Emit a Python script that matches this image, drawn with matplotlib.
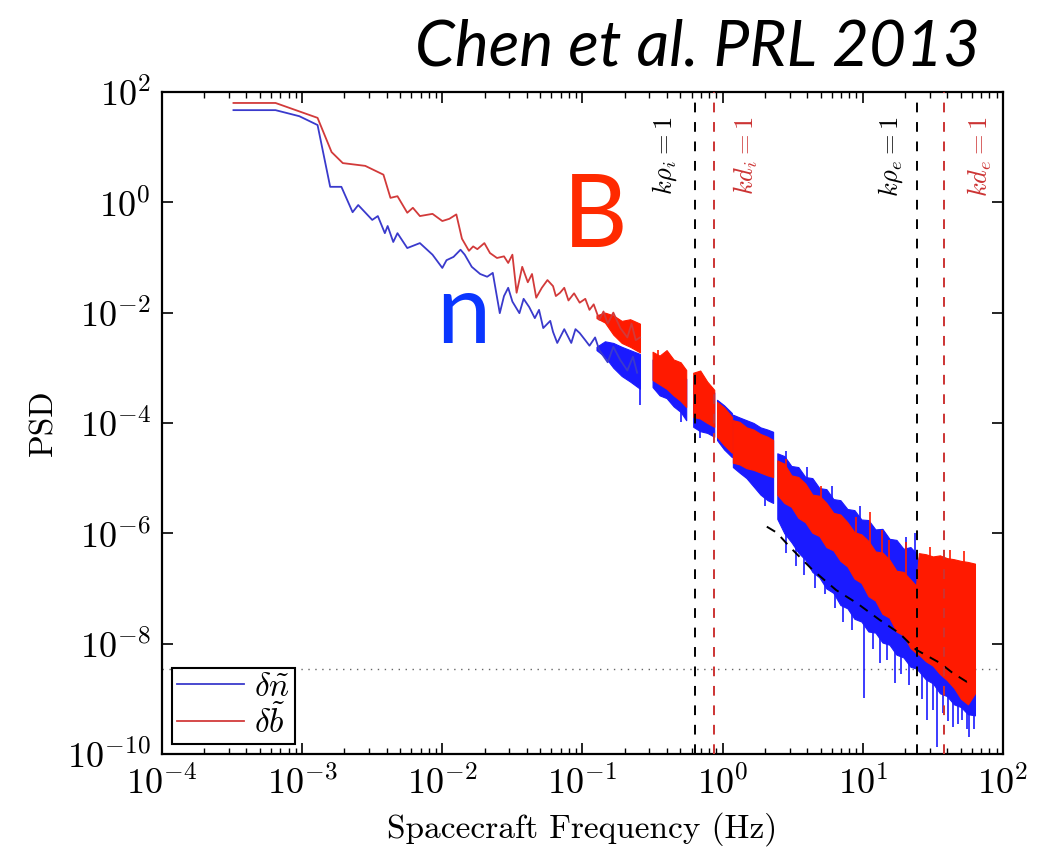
import numpy as np
import matplotlib.pyplot as plt

plt.rcParams['mathtext.fontset'] = 'cm'
plt.rcParams['font.family'] = 'serif'
plt.rcParams['font.serif'] = ['cmr10', 'DejaVu Serif']
plt.rcParams['axes.formatter.use_mathtext'] = True

# all values below are log10 of frequency (Hz) and log10 of PSD

# low frequency part, drawn as plain lines
red_lf_logf = [-3.49, -3.19, -2.89, -2.79, -2.71, -2.55, -2.42, -2.37, -2.32, -2.25, -2.21, -2.16,
               -2.07, -2.00, -1.95, -1.90, -1.86, -1.81, -1.78, -1.75, -1.70, -1.66, -1.61, -1.56,
               -1.53, -1.50, -1.47, -1.43, -1.39, -1.36, -1.33, -1.29, -1.25, -1.21, -1.19, -1.16,
               -1.13, -1.10, -1.06, -1.02, -0.98, -0.95, -0.92, -0.88, -0.85, -0.82, -0.78, -0.73,
               -0.68, -0.65, -0.62, -0.59]
red_lf_logp = [1.80, 1.80, 1.53, 0.91, 0.71, 0.66, 0.50, 0.08, 0.11, -0.19, -0.10, -0.25,
               -0.21, -0.34, -0.30, -0.22, -0.66, -0.88, -0.80, -0.85, -0.74, -0.92, -1.01, -0.98,
               -1.10, -0.95, -1.64, -1.17, -1.45, -1.30, -1.73, -1.55, -1.41, -1.52, -1.70, -1.64,
               -1.55, -1.78, -1.65, -1.82, -1.75, -1.95, -1.85, -2.13, -1.98, -2.20, -2.00, -2.28,
               -2.45, -2.20, -2.50, -2.45]

blue_lf_logf = [-3.49, -3.19, -3.02, -2.89, -2.80, -2.72, -2.64, -2.60, -2.50, -2.46, -2.41, -2.39,
                -2.35, -2.32, -2.25, -2.16, -2.07, -2.00, -1.97, -1.92, -1.87, -1.84, -1.79, -1.73,
                -1.68, -1.64, -1.59, -1.56, -1.53, -1.50, -1.45, -1.42, -1.38, -1.34, -1.31, -1.28,
                -1.23, -1.21, -1.18, -1.13, -1.08, -1.05, -1.02, -0.98, -0.95, -0.91, -0.88, -0.82,
                -0.78, -0.73, -0.68, -0.64, -0.61]
blue_lf_logp = [1.67, 1.67, 1.56, 1.40, 0.28, 0.28, -0.18, -0.05, -0.32, -0.25, -0.56, -0.43,
                -0.72, -0.56, -0.83, -0.74, -0.95, -1.19, -1.05, -0.99, -0.86, -0.95, -1.17, -1.30,
                -1.35, -1.28, -2.01, -1.70, -1.55, -1.80, -2.01, -1.75, -1.90, -2.10, -1.95, -2.28,
                -2.15, -2.35, -2.55, -2.30, -2.55, -2.30, -2.37, -2.50, -2.60, -2.45, -2.68, -2.90,
                -2.62, -2.86, -3.05, -2.80, -3.09]

# high frequency part, dense noise drawn as bands (upper / lower envelope) per data chunk
band_logf = [[-0.90, -0.84, -0.78, -0.72, -0.66, -0.59],
             [-0.50, -0.45, -0.40, -0.35, -0.30, -0.26],
             [-0.21, -0.16, -0.11, -0.06],
             [-0.04, 0.01, 0.066],
             [0.073, 0.12, 0.17, 0.22, 0.27, 0.32, 0.36],
             [0.39, 0.44, 0.49, 0.54, 0.59, 0.64, 0.69, 0.74, 0.79, 0.84, 0.89, 0.94, 0.99, 1.04,
              1.09, 1.14, 1.19, 1.24, 1.29, 1.34, 1.38, 1.40, 1.45, 1.50, 1.55, 1.60, 1.65, 1.70,
              1.75, 1.80]]
band_red_hi = [[-2.05, -2.00, -2.05, -2.15, -2.12, -2.20],
               [-2.71, -2.78, -2.68, -2.85, -2.90, -3.04],
               [-3.09, -3.05, -3.25, -3.40],
               [-3.62, -3.72, -3.89],
               [-3.95, -3.98, -4.08, -4.12, -4.20, -4.25, -4.31],
               [-4.68, -4.74, -4.95, -4.98, -5.10, -5.30, -5.32, -5.45, -5.63, -5.66, -5.80, -5.98,
                -6.02, -6.14, -6.33, -6.35, -6.48, -6.68, -6.70, -6.84, -6.95, -6.36, -6.38, -6.42,
                -6.40, -6.45, -6.47, -6.50, -6.52, -6.55]]
band_red_lo = [[-2.10, -2.18, -2.40, -2.55, -2.62, -2.72],
               [-3.22, -3.30, -3.38, -3.50, -3.60, -3.71],
               [-3.89, -3.92, -4.00, -4.07],
               [-4.25, -4.40, -4.54],
               [-4.72, -4.75, -4.82, -4.85, -4.90, -4.95, -4.98],
               [-5.30, -5.45, -5.52, -5.72, -5.80, -5.99, -6.05, -6.25, -6.31, -6.50, -6.60, -6.82,
                -6.90, -7.14, -7.22, -7.46, -7.53, -7.78, -7.85, -8.08, -8.17, -8.20, -8.32, -8.40,
                -8.55, -8.66, -8.80, -9.00, -9.10, -8.90]]
band_blue_hi = [[-2.62, -2.52, -2.55, -2.62, -2.68, -2.75],
                [-2.85, -2.92, -2.98, -3.05, -3.10, -3.20],
                [-3.15, -3.20, -3.30, -3.45],
                [-3.58, -3.68, -3.82],
                [-3.85, -3.90, -3.95, -4.00, -4.08, -4.12, -4.16],
                [-4.55, -4.60, -4.78, -4.80, -4.98, -5.00, -5.18, -5.20, -5.38, -5.40, -5.56, -5.58,
                 -5.75, -5.76, -5.93, -5.92, -6.10, -6.12, -6.28, -6.25, -6.36, -6.55, -6.58, -6.62,
                 -6.65, -6.68, -6.70, -6.74, -6.77, -6.80]]
band_blue_lo = [[-2.68, -2.80, -3.00, -3.15, -3.25, -3.38],
                [-3.35, -3.50, -3.55, -3.70, -3.80, -3.95],
                [-4.07, -4.15, -4.18, -4.25],
                [-4.31, -4.48, -4.62],
                [-4.80, -4.90, -5.00, -5.15, -5.30, -5.40, -5.45],
                [-5.74, -6.00, -6.16, -6.35, -6.48, -6.70, -6.80, -7.00, -7.08, -7.30, -7.36, -7.55,
                 -7.60, -7.78, -7.80, -7.98, -8.02, -8.20, -8.25, -8.42, -8.45, -8.50, -8.65, -8.72,
                 -8.90, -8.95, -9.10, -9.15, -9.28, -9.30]]

# single spikes sticking out of the bands
blue_dn_logf = [-0.59, -0.30, -0.16, 0.30, 0.45, 0.52, 0.58, 0.66, 0.73, 0.80, 0.86, 0.92, 1.01,
                1.07, 1.12, 1.17, 1.23, 1.27, 1.33, 1.42, 1.46, 1.50, 1.53, 1.57, 1.61, 1.64, 1.68,
                1.71, 1.74, 1.76, 1.79]
blue_dn_logp = [-3.67, -3.98, -4.28, -5.50, -6.35, -6.60, -6.75, -7.00, -7.10, -7.35, -7.60, -7.75,
                -8.98, -8.10, -8.35, -8.30, -8.71, -8.55, -8.75, -9.00, -9.38, -9.20, -9.87, -9.26,
                -9.40, -9.51, -9.45, -9.38, -9.55, -9.69, -9.55]
blue_up_logf = [0.45, 0.60, 0.78, 0.98, 1.10, 1.31, 1.37]
blue_up_logp = [-4.50, -4.80, -5.15, -5.50, -6.05, -6.07, -6.00]
red_up_logf = [-0.46, 0.45, 0.70, 0.95, 1.05, 1.14, 1.19, 1.31, 1.48, 1.62, 1.72]
red_up_logp = [-2.68, -4.65, -5.15, -5.70, -5.61, -5.94, -6.12, -6.16, -6.25, -6.30, -6.32]

# black dashed reference spectrum
ref_logf = [0.315, 0.387, 0.48, 0.64, 0.81, 0.96, 1.12, 1.26, 1.38, 1.55, 1.64, 1.74, 1.78]
ref_logp = [-5.88, -5.99, -6.25, -6.66, -7.03, -7.27, -7.57, -7.81, -8.11, -8.35, -8.53, -8.69, -8.66]

# characteristic frequencies (Hz) and noise floor
f_rho_i = 0.63
f_d_i = 0.865
f_rho_e = 24.2
f_d_e = 38.0
noise_floor = 3.5e-9

c_red = '#ff1a00'
c_blue = '#1a1aff'
c_red_line = '#d23a3a'
c_blue_line = '#3a3acc'


def p(v):
    return 10.0 ** np.asarray(v)


fig = plt.figure(figsize=(10.37, 8.56), dpi=100)
ax = fig.add_axes([0.1562, 0.1192, 0.811, 0.7734])
ax.set_xscale('log')
ax.set_yscale('log')

# bands: blue under red
for f, lo, hi in zip(band_logf, band_blue_lo, band_blue_hi):
    ax.fill_between(p(f), p(lo), p(hi), color=c_blue, lw=0.8, edgecolor=c_blue, zorder=2)
for f, lo, hi in zip(band_logf, band_red_lo, band_red_hi):
    ax.fill_between(p(f), p(lo), p(hi), color=c_red, lw=0.8, edgecolor=c_red, zorder=3)

# spikes, starting inside the band they belong to
all_f = np.concatenate([np.array(f) for f in band_logf])
blue_mid = np.concatenate([(np.array(a) + np.array(b)) / 2 for a, b in zip(band_blue_lo, band_blue_hi)])
red_mid = np.concatenate([(np.array(a) + np.array(b)) / 2 for a, b in zip(band_red_lo, band_red_hi)])
ax.vlines(p(blue_dn_logf), p(blue_dn_logp), p(np.interp(blue_dn_logf, all_f, blue_mid)),
          color=c_blue, lw=1.2, zorder=2)
ax.vlines(p(blue_up_logf), p(np.interp(blue_up_logf, all_f, blue_mid)), p(blue_up_logp),
          color=c_blue, lw=1.2, zorder=2)
ax.vlines(p(red_up_logf), p(np.interp(red_up_logf, all_f, red_mid)), p(red_up_logp),
          color=c_red, lw=1.2, zorder=3)

# low frequency lines
ax.plot(p(blue_lf_logf), p(blue_lf_logp), color=c_blue_line, lw=1.3, zorder=4, label=r'$\delta\tilde{n}$')
ax.plot(p(red_lf_logf), p(red_lf_logp), color=c_red_line, lw=1.3, zorder=4, label=r'$\delta\tilde{b}$')

ax.plot(p(ref_logf), p(ref_logp), color='black', lw=1.4, ls=(0, (5, 4)), zorder=5)

# scale lines
ax.axvline(f_rho_i, color='black', lw=1.4, ls=(0, (5, 5)), zorder=6)
ax.axvline(f_d_i, color='#cc3333', lw=1.4, ls=(0, (5, 5)), zorder=6)
ax.axvline(f_rho_e, color='black', lw=1.4, ls=(0, (5, 5)), zorder=6)
ax.axvline(f_d_e, color='#cc3333', lw=1.4, ls=(0, (5, 5)), zorder=6)
ax.axhline(noise_floor, color='#666666', lw=1.0, ls=(0, (1, 4)), zorder=1)

lab_y = 36
ax.text(0.387, lab_y, r'$k\rho_i = 1$', rotation=90, ha='center', va='top', fontsize=19, color='black')
ax.text(1.47, lab_y, r'$kd_i = 1$', rotation=90, ha='center', va='top', fontsize=19, color='#cc3333')
ax.text(15.9, lab_y, r'$k\rho_e = 1$', rotation=90, ha='center', va='top', fontsize=19, color='black')
ax.text(68.0, lab_y, r'$kd_e = 1$', rotation=90, ha='center', va='top', fontsize=19, color='#cc3333')

ax.set_xlim(1e-4, 1e2)
ax.set_ylim(1e-10, 1e2)
ax.set_xticks([1e-4, 1e-3, 1e-2, 1e-1, 1e0, 1e1, 1e2])
ax.set_yticks([1e-10, 1e-8, 1e-6, 1e-4, 1e-2, 1e0, 1e2])
ax.yaxis.set_minor_locator(plt.NullLocator())
ax.tick_params(which='both', direction='in', top=True, right=True, labelsize=26)
ax.tick_params(which='major', length=8, width=1.2, pad=8)
ax.tick_params(which='minor', length=4, width=1.0)
for s in ax.spines.values():
    s.set_linewidth(1.6)

ax.set_xlabel('Spacecraft Frequency (Hz)', fontsize=24, labelpad=8)
ax.set_ylabel('PSD', fontsize=24, labelpad=6)

leg = ax.legend(loc='lower left', fontsize=24, frameon=True, fancybox=False, framealpha=1,
                edgecolor='black', borderaxespad=0.3, borderpad=0.15, handlelength=2.0,
                handletextpad=0.3, labelspacing=0.05)
leg.get_frame().set_linewidth(1.5)

fig.text(0.945, 0.924, 'Chen et al. PRL 2013', ha='right', va='baseline', fontsize=46,
         family=['Lato', 'DejaVu Sans'], style='italic')
fig.text(0.543, 0.711, 'B', ha='left', va='baseline', fontsize=72, family=['Lato', 'DejaVu Sans'],
         color='#ff2a00')
fig.text(0.421, 0.599, 'n', ha='left', va='baseline', fontsize=70, family=['Lato', 'DejaVu Sans'],
         color='#0a36ff')

fig.savefig('out.png', dpi=100)
